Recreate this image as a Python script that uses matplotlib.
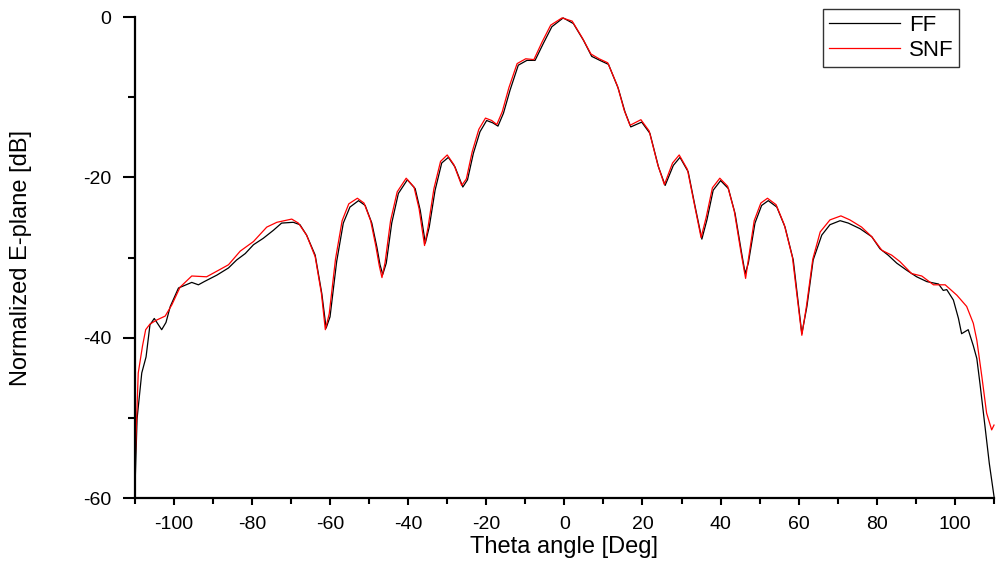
import numpy as np
import matplotlib.pyplot as plt

plt.rcParams['font.family'] = ['Liberation Sans', 'DejaVu Sans']
plt.rcParams['axes.unicode_minus'] = False

# FF (far field) measured pattern
ff_theta = [-110, -109.4, -108.2, -107.1, -106.1, -105.0, -103.1, -102.0, -100.9, -98.8,
            -95.4, -93.7, -92.2, -89.0, -86.0, -83.9, -81.7, -79.6, -77.1, -74.5,
            -72.4, -69.4, -67.7, -66.0, -63.8, -62.1, -61.0, -60.0, -58.3, -56.6,
            -54.9, -52.7, -51.0, -49.3, -48.0, -47.2, -46.5, -45.6, -44.2, -42.5,
            -40.2, -38.2, -36.9, -35.6, -34.6, -33.1, -31.4, -29.7, -28.0, -26.0,
            -24.8, -23.3, -21.6, -19.9, -18.3, -17.0, -15.6, -13.9, -11.8, -9.6,
            -7.5, -5.4, -3.2, -0.3, 2.3, 4.9, 7.0, 9.1, 11.3, 13.8,
            15.5, 17.0, 19.8, 21.9, 24.1, 25.8, 27.9, 29.6, 31.7, 33.5,
            35.2, 36.5, 38.1, 40.0, 42.0, 43.7, 45.4, 46.3, 47.1, 48.8,
            50.5, 52.2, 54.4, 56.5, 58.6, 59.6, 60.8, 62.1, 63.7, 65.9,
            68.0, 70.6, 72.7, 75.7, 78.7, 80.8, 82.9, 85.1, 87.7, 90.2,
            92.8, 95.8, 97.0, 97.9, 99.6, 100.9, 101.7, 103.4, 104.7, 105.6,
            106.4, 107.7, 108.8, 110.0]
ff_db = [-59.8, -50.1, -44.4, -42.4, -38.4, -37.6, -39.0, -38.1, -36.1, -33.8,
         -33.1, -33.4, -33.0, -32.2, -31.3, -30.3, -29.5, -28.4, -27.6, -26.6,
         -25.7, -25.6, -25.9, -27.2, -29.7, -34.5, -38.8, -37.4, -30.5, -25.7,
         -23.7, -22.9, -23.5, -25.7, -28.7, -30.9, -32.1, -30.7, -25.7, -22.0,
         -20.3, -21.4, -24.1, -28.2, -26.2, -21.6, -18.2, -17.5, -18.7, -21.2,
         -20.3, -17.0, -14.3, -12.9, -13.2, -13.6, -12.0, -9.1, -6.0, -5.4,
         -5.4, -3.3, -1.2, -0.1, -0.8, -2.9, -4.9, -5.4, -5.9, -8.9,
         -11.8, -13.7, -13.1, -14.5, -18.7, -21.0, -18.5, -17.5, -19.3, -23.7,
         -27.7, -25.3, -21.6, -20.4, -21.4, -24.5, -29.5, -32.0, -30.7, -25.7,
         -23.5, -22.9, -23.7, -26.2, -30.3, -34.5, -39.5, -36.1, -30.3, -27.2,
         -25.9, -25.4, -25.7, -26.4, -27.4, -28.9, -29.7, -30.7, -31.6, -32.4,
         -33.0, -33.3, -34.1, -34.0, -35.3, -37.6, -39.5, -39.0, -41.0, -42.6,
         -45.7, -51.1, -55.7, -59.8]

# SNF (spherical near field transformed) pattern
snf_theta = [-110, -109.9, -109.5, -109.1, -108.0, -107.2, -106.1, -104.4, -102.2, -100.5,
             -98.4, -95.4, -91.6, -88.6, -86.0, -83.0, -79.6, -76.2, -73.6, -69.8,
             -68.1, -66.0, -63.8, -62.2, -61.2, -60.2, -58.6, -56.9, -55.2, -53.0,
             -51.3, -49.6, -48.3, -47.4, -46.7, -45.9, -44.5, -42.8, -40.5, -38.5,
             -37.2, -35.8, -34.9, -33.4, -31.7, -30.0, -28.3, -26.3, -25.1, -23.6,
             -21.9, -20.2, -18.6, -17.3, -15.9, -14.2, -12.1, -9.9, -7.8, -5.7,
             -3.5, -0.6, 2.0, 4.6, 6.8, 8.9, 11.1, 13.6, 15.3, 16.8,
             19.6, 21.7, 23.9, 25.6, 27.7, 29.4, 31.5, 33.3, 35.0, 36.3,
             37.9, 39.8, 41.8, 43.5, 45.2, 46.4, 47.0, 48.6, 50.3, 52.0,
             54.2, 56.3, 58.4, 59.5, 60.8, 62.0, 63.6, 65.5, 68.0, 70.8,
             73.1, 76.1, 78.7, 81.3, 83.8, 85.9, 88.9, 91.5, 94.5, 97.5,
             100.5, 103.0, 104.7, 105.6, 106.9, 108.1, 109.4, 110.0]
snf_db = [-58.5, -55.5, -49.9, -44.4, -41.0, -39.0, -38.3, -37.8, -37.3, -35.9,
          -33.7, -32.3, -32.4, -31.6, -30.9, -29.2, -28.0, -26.2, -25.6, -25.2,
          -25.7, -27.2, -29.9, -34.5, -39.0, -37.0, -30.2, -25.4, -23.3, -22.6,
          -23.2, -25.4, -28.5, -31.0, -32.5, -30.6, -25.4, -21.8, -20.1, -21.2,
          -23.9, -28.5, -26.2, -21.4, -18.0, -17.2, -18.4, -21.0, -20.2, -16.8,
          -14.0, -12.6, -12.9, -13.4, -11.8, -8.8, -5.8, -5.2, -5.3, -3.1,
          -1.0, -0.1, -0.5, -2.6, -4.6, -5.2, -5.7, -8.6, -11.6, -13.5,
          -12.8, -14.2, -18.4, -20.9, -18.2, -17.2, -19.0, -23.4, -27.5, -25.0,
          -21.3, -20.1, -21.1, -24.2, -29.3, -32.6, -30.6, -25.4, -23.2, -22.6,
          -23.4, -25.9, -30.0, -34.5, -39.7, -36.0, -30.2, -26.8, -25.3, -24.8,
          -25.3, -26.2, -27.4, -29.1, -29.7, -30.5, -32.0, -32.3, -33.4, -33.4,
          -34.7, -36.1, -38.2, -40.3, -44.9, -49.4, -51.5, -50.9]

fig = plt.figure(figsize=(9.98, 5.78), dpi=100)
ax = fig.add_axes([0.135, 0.1384, 0.861, 0.832])

ax.plot(ff_theta, ff_db, color='black', lw=0.9, label='FF', clip_on=False)
ax.plot(snf_theta, snf_db, color='red', lw=0.9, label='SNF', clip_on=False)

ax.set_xlim(-110, 110)
ax.set_ylim(-60, 0)
ax.set_xticks(np.arange(-100, 101, 20))
ax.set_xticks(np.arange(-110, 111, 10), minor=True)
ax.set_yticks([-60, -40, -20, 0])
ax.set_yticks([-50, -30, -10], minor=True)

for s in ['top', 'right']:
    ax.spines[s].set_visible(False)
for s in ['left', 'bottom']:
    ax.spines[s].set_linewidth(1.6)

ax.tick_params(axis='y', which='major', direction='out', length=9, width=1.5, pad=8, labelsize=14)
ax.tick_params(axis='y', which='minor', direction='out', length=5, width=1.5)
ax.tick_params(axis='x', which='major', direction='out', length=5, width=1.5, pad=8, labelsize=14)
ax.tick_params(axis='x', which='minor', direction='out', length=4, width=1.5)

ax.set_xlabel('Theta angle [Deg]', fontsize=17)
ax.set_ylabel('Normalized E-plane [dB]', fontsize=17)
ax.xaxis.set_label_coords(0.5, -0.078)
ax.yaxis.set_label_coords(-0.12, 0.5)

leg = fig.legend(loc='upper right', bbox_to_anchor=(959 / 998, 1 - 9 / 578),
                 fontsize=16, frameon=True, fancybox=False, edgecolor='black',
                 handlelength=3.2, borderpad=0.25, labelspacing=0.2, handletextpad=0.4,
                 borderaxespad=0)
leg.get_frame().set_linewidth(1.0)

fig.savefig('out.png', dpi=100)
